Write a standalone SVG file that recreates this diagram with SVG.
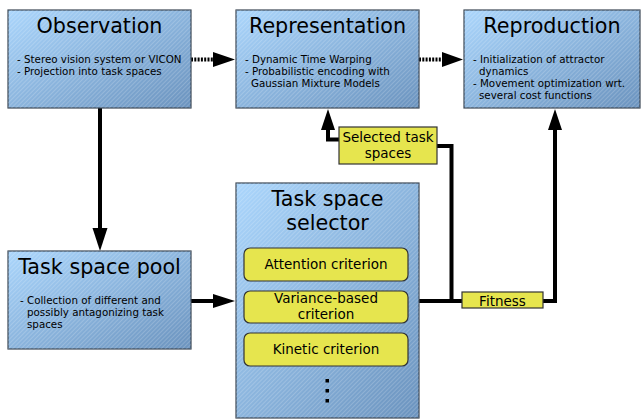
<svg xmlns="http://www.w3.org/2000/svg" width="642" height="420" viewBox="0 0 642 420">
<defs>
<linearGradient id="blue" x1="0" y1="0" x2="1" y2="1">
<stop offset="0" stop-color="#abd6fc"/>
<stop offset="1" stop-color="#6b93be"/>
</linearGradient>
<pattern id="hatch" width="3" height="3" patternUnits="userSpaceOnUse" patternTransform="rotate(-45)">
<rect width="3" height="1" fill="#ffffff" fill-opacity="0.18"/>
</pattern>
<marker id="ah" markerWidth="22" markerHeight="15" refX="22" refY="7.5" orient="auto" markerUnits="userSpaceOnUse">
<path d="M0,0 L22,7.5 L0,15 Z" fill="#000"/>
</marker>
<marker id="ahv" markerWidth="22" markerHeight="15" refX="21" refY="7.5" orient="auto" markerUnits="userSpaceOnUse">
<path d="M0,0 L22,7.5 L0,15 Z" fill="#000"/>
</marker>
<style>
.box{stroke:#3b4754;stroke-width:1.2}
.hatch{fill:url(#hatch);stroke:none}
.title{font-family:"DejaVu Sans",sans-serif;font-size:20.7px;fill:#000;text-anchor:middle}
.body{font-family:"DejaVu Sans",sans-serif;font-size:10.3px;fill:#000}
.yl{fill:#e6e54e;stroke:#333;stroke-width:1.2}
.lbl{font-family:"DejaVu Sans",sans-serif;font-size:13.5px;fill:#000;text-anchor:middle}
.conn{fill:none;stroke:#000;stroke-width:4}
.dot{fill:none;stroke:#000;stroke-width:4;stroke-dasharray:2 1.3}
</style>
</defs>

<g id="connectors">
<path class="dot" d="M191,59.5 L213,59.5" />
<path d="M213,52 L235,59.5 L213,67 Z" fill="#000"/>
<path class="dot" d="M419,59.5 L442,59.5" />
<path d="M442,52 L463,59.5 L442,67 Z" fill="#000"/>
<path class="conn" d="M100,108 L100,230" stroke-width="5"/>
<path d="M92.5,228 L107.5,228 L100,251 Z" fill="#000"/>
<path class="conn" d="M191,301 L214,301"/>
<path d="M213,294 L235,301 L213,308 Z" fill="#000"/>
<path class="conn" d="M419,301 L462,301"/>
<path class="conn" d="M543,301 L555,301 L555,128"/>
<path d="M548,130 L562,130 L555,109 Z" fill="#000"/>
<path class="conn" d="M451.5,301 L451.5,146 L437,146"/>
<path class="conn" d="M339,139.5 L328,139.5 L328,128"/>
<path d="M321,130 L335,130 L328,109 Z" fill="#000"/>
</g>

<g id="observation">
<rect class="box" x="8" y="10" width="183" height="98" fill="url(#blue)"/>
<rect class="hatch" x="8" y="10" width="183" height="98"/>
<text class="title" x="99.5" y="33">Observation</text>
<text class="body" x="17" y="63">- Stereo vision system or VICON</text>
<text class="body" x="17" y="75">- Projection into task spaces</text>
</g>

<g id="representation">
<rect class="box" x="236" y="10" width="183" height="98" fill="url(#blue)"/>
<rect class="hatch" x="236" y="10" width="183" height="98"/>
<text class="title" x="327.5" y="33">Representation</text>
<text class="body" x="245" y="63">- Dynamic Time Warping</text>
<text class="body" x="245" y="75">- Probabilistic encoding with</text>
<text class="body" x="251" y="87">Gaussian Mixture Models</text>
</g>

<g id="reproduction">
<rect class="box" x="464" y="10" width="176" height="98" fill="url(#blue)"/>
<rect class="hatch" x="464" y="10" width="176" height="98"/>
<text class="title" x="552" y="33">Reproduction</text>
<text class="body" x="473" y="63">- Initialization of attractor</text>
<text class="body" x="479" y="75">dynamics</text>
<text class="body" x="473" y="87">- Movement optimization wrt.</text>
<text class="body" x="479" y="99">several cost functions</text>
</g>

<g id="task-space-pool">
<rect class="box" x="8" y="251" width="183" height="98" fill="url(#blue)"/>
<rect class="hatch" x="8" y="251" width="183" height="98"/>
<text class="title" x="99.5" y="274">Task space pool</text>
<text class="body" x="20" y="304">- Collection of different and</text>
<text class="body" x="27" y="316">possibly antagonizing task</text>
<text class="body" x="27" y="328">spaces</text>
</g>

<g id="task-space-selector">
<rect class="box" x="236" y="183" width="183" height="235" fill="url(#blue)"/>
<rect class="hatch" x="236" y="183" width="183" height="235"/>
<text class="title" x="327.5" y="206">Task space</text>
<text class="title" x="327.5" y="230">selector</text>
<rect class="yl" x="244" y="248" width="164" height="33" rx="6"/>
<text class="lbl" x="326" y="269">Attention criterion</text>
<rect class="yl" x="244" y="291" width="164" height="32" rx="6"/>
<text class="lbl" x="326" y="303">Variance-based</text>
<text class="lbl" x="326" y="319">criterion</text>
<rect class="yl" x="244" y="333" width="164" height="33" rx="6"/>
<text class="lbl" x="326" y="354">Kinetic criterion</text>
<rect x="325.5" y="379" width="3.5" height="3.5" fill="#000"/>
<rect x="325.5" y="389" width="3.5" height="3.5" fill="#000"/>
<rect x="325.5" y="399" width="3.5" height="3.5" fill="#000"/>
</g>

<g id="selected-task-spaces">
<rect class="yl" x="339" y="127" width="98" height="37"/>
<text class="lbl" x="388" y="142">Selected task</text>
<text class="lbl" x="388" y="158">spaces</text>
</g>

<g id="fitness">
<rect class="yl" x="462" y="292" width="81" height="16"/>
<text class="lbl" x="502.5" y="305.5">Fitness</text>
</g>
</svg>
